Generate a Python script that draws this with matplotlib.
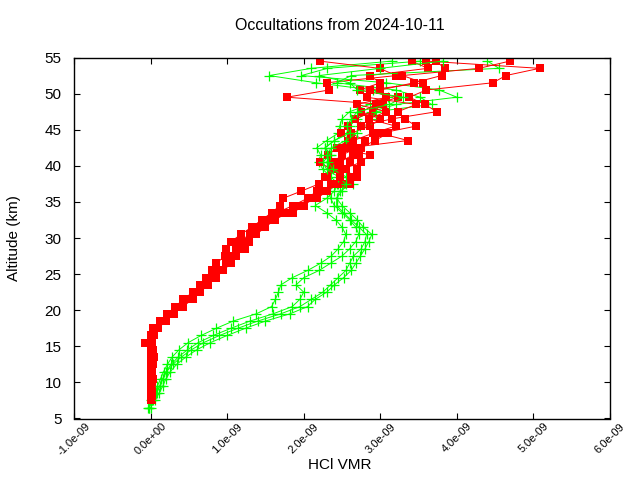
import matplotlib
matplotlib.use("Agg")
import matplotlib.pyplot as plt
from matplotlib.ticker import FixedLocator

plt.rcParams['font.family'] = ['Liberation Sans', 'DejaVu Sans']

# ---- data (HCl VMR in units of 1e-9) ----
alt_green = [6.5, 7.5, 8.5, 9.5, 10.5, 11.5, 12.5, 13.5, 14.5, 15.5,
             16.5, 17.5, 18.5, 19.5, 20.5, 21.5, 22.5, 23.5, 24.5, 25.5,
             26.5, 27.5, 28.5, 29.5, 30.5, 31.5, 32.5, 33.5, 34.5, 35.5,
             36.5, 37.5, 38.5, 39.5, 40.5, 41.5, 42.5, 43.5, 44.5, 45.5,
             46.5, 47.5, 48.5, 49.5, 50.5, 51.5, 52.5, 53.5, 54.5]

green_1 = [-0.03, 0.00, 0.05, 0.09, 0.13, 0.17, 0.22, 0.28, 0.37, 0.49,
           0.66, 0.86, 1.08, 1.38, 1.58, 1.63, 1.67, 1.70, 1.85, 2.05,
           2.22, 2.36, 2.45, 2.52, 2.55, 2.50, 2.42, 2.30, 2.15, 2.30,
           2.40, 2.45, 2.35, 2.25, 2.20, 2.22, 2.17, 2.30, 2.45, 2.47,
           2.50, 2.60, 2.86, 3.10, 2.90, 2.16, 1.55, 2.10, 3.15]
green_2 = [-0.02, 0.03, 0.08, 0.12, 0.16, 0.20, 0.27, 0.36, 0.48, 0.62,
           0.82, 1.05, 1.30, 1.60, 1.85, 1.95, 2.00, 1.90, 2.00, 2.20,
           2.35, 2.50, 2.60, 2.68, 2.72, 2.68, 2.60, 2.50, 2.40, 2.35,
           2.33, 2.43, 2.50, 2.35, 2.30, 2.36, 2.28, 2.40, 2.56, 2.60,
           2.69, 2.88, 3.21, 4.00, 3.77, 3.08, 1.97, 2.31, 3.52]
green_3 = [0.00, 0.06, 0.11, 0.16, 0.20, 0.26, 0.34, 0.46, 0.60, 0.78,
           1.00, 1.24, 1.50, 1.82, 2.05, 2.15, 2.30, 2.40, 2.52, 2.62,
           2.68, 2.74, 2.80, 2.85, 2.89, 2.78, 2.70, 2.60, 2.50, 2.43,
           2.47, 2.65, 2.55, 2.38, 2.32, 2.30, 2.36, 2.55, 2.69, 2.73,
           2.88, 2.95, 3.67, 3.52, 3.20, 2.43, 2.62, 4.55, 4.40]
green_4 = [-0.02, 0.02, 0.07, 0.12, 0.16, 0.21, 0.29, 0.40, 0.53, 0.69,
           0.90, 1.14, 1.40, 1.70, 1.95, 2.10, 2.25, 2.35, 2.45, 2.55,
           2.60, 2.65, 2.75, 2.80, 2.82, 2.72, 2.62, 2.52, 2.43, 2.43,
           2.50, 2.55, 2.45, 2.30, 2.25, 2.34, 2.28, 2.40, 2.60, 2.56,
           2.62, 2.70, 3.12, 3.30, 2.70, 2.60, 2.20, 3.00, 3.82]

alt_red = [7.5, 8.5, 9.5, 10.5, 11.5, 12.5, 13.5, 14.5, 15.5, 16.5,
           17.5, 18.5, 19.5, 20.5, 21.5, 22.5, 23.5, 24.5, 25.5, 26.5,
           27.5, 28.5, 29.5, 30.5, 31.5, 32.5, 33.5, 34.5, 35.5, 36.5,
           37.5, 38.5, 39.5, 40.5, 41.5, 42.5, 43.5, 44.5, 45.5, 46.5,
           47.5, 48.5, 49.5, 50.5, 51.5, 52.5, 53.5, 54.5]

red_1 = [0.00, 0.00, 0.01, 0.00, 0.01, 0.02, 0.01, 0.00, -0.07, 0.00,
         0.03, 0.12, 0.22, 0.32, 0.43, 0.55, 0.64, 0.72, 0.80, 0.86,
         0.97, 0.99, 1.05, 1.18, 1.32, 1.45, 1.58, 1.69, 1.73, 1.97,
         2.20, 2.30, 2.36, 2.21, 2.32, 2.43, 2.58, 2.49, 2.58, 2.67,
         2.90, 3.04, 1.78, 2.33, 2.30, 3.21, 2.99, 2.21]
red_2 = [0.02, 0.03, 0.02, 0.03, 0.02, 0.03, 0.04, 0.03, 0.02, 0.04,
         0.10, 0.20, 0.30, 0.42, 0.55, 0.65, 0.75, 0.85, 0.95, 1.05,
         1.12, 1.20, 1.28, 1.38, 1.50, 1.62, 1.78, 1.90, 2.10, 2.25,
         2.50, 2.62, 2.69, 2.60, 2.72, 2.75, 2.93, 3.10, 2.75, 3.15,
         3.74, 3.58, 3.38, 3.60, 4.47, 4.64, 5.08, 3.60]
red_3 = [0.01, 0.02, 0.00, 0.02, 0.01, 0.00, 0.02, 0.01, 0.00, 0.02,
         0.06, 0.15, 0.25, 0.36, 0.48, 0.58, 0.70, 0.78, 0.88, 0.99,
         1.05, 1.23, 1.15, 1.30, 1.43, 1.56, 1.86, 2.00, 2.12, 2.21,
         2.40, 2.47, 2.55, 2.47, 2.64, 2.60, 3.36, 3.00, 3.47, 3.32,
         3.23, 3.47, 2.82, 2.86, 3.56, 3.29, 4.29, 4.69]
red_4 = [0.00, 0.01, 0.01, 0.01, 0.00, 0.01, 0.03, 0.02, 0.01, 0.01,
         0.05, 0.16, 0.27, 0.38, 0.50, 0.60, 0.68, 0.80, 0.90, 1.00,
         1.08, 1.12, 1.22, 1.34, 1.46, 1.60, 1.70, 1.95, 2.18, 2.30,
         2.35, 2.28, 2.45, 2.38, 2.50, 2.70, 2.80, 2.62, 2.86, 3.00,
         2.75, 2.95, 3.23, 2.73, 3.00, 2.86, 3.62, 3.41]
red_5 = [0.01, 0.00, 0.02, 0.01, 0.02, 0.01, 0.00, 0.02, 0.01, 0.03,
         0.08, 0.18, 0.28, 0.40, 0.52, 0.62, 0.72, 0.82, 0.92, 1.02,
         1.10, 1.18, 1.25, 1.36, 1.48, 1.58, 1.65, 1.86, 2.05, 2.17,
         2.60, 2.70, 2.50, 2.75, 2.86, 2.50, 2.65, 2.90, 3.20, 2.85,
         3.08, 2.70, 3.08, 3.00, 3.44, 3.80, 3.84, 3.73]

x_ticks = [-1e-9, 0.0, 1e-9, 2e-9, 3e-9, 4e-9, 5e-9, 6e-9]
x_tick_labels = ["-1.0e-09", "0.0e+00", "1.0e-09", "2.0e-09",
                 "3.0e-09", "4.0e-09", "5.0e-09", "6.0e-09"]
y_ticks = [5, 10, 15, 20, 25, 30, 35, 40, 45, 50, 55]

title = "Occultations from 2024-10-11"
x_label = "HCl VMR"
y_label = "Altitude (km)"

# ---- figure ----
fig = plt.figure(figsize=(6.4, 4.8), dpi=100)
ax = fig.add_axes([74 / 640, 1 - 418.5 / 480, (610 - 74) / 640, (418.5 - 57.5) / 480])

RED = "#ff0000"
GREEN = "#00ff00"

def scale(v):
    return [a * 1e-9 for a in v]

red_style = dict(color=RED, lw=0.7, marker='s', ms=5.8, mec=RED, mfc=RED, mew=0)
green_style = dict(color=GREEN, lw=0.7, marker='+', ms=7, mew=0.9)

ax.plot(scale(green_1), alt_green, **green_style)
ax.plot(scale(green_2), alt_green, **green_style)
ax.plot(scale(red_1), alt_red, **red_style)
ax.plot(scale(red_4), alt_red, **red_style)
ax.plot(scale(green_3), alt_green, **green_style)
ax.plot(scale(red_2), alt_red, **red_style)
ax.plot(scale(red_5), alt_red, **red_style)
ax.plot(scale(green_4), alt_green, **green_style)
ax.plot(scale(red_3), alt_red, **red_style)

ax.set_xlim(-1e-9, 6e-9)
ax.set_ylim(5, 55)
ax.xaxis.set_major_locator(FixedLocator(x_ticks))
ax.set_xticklabels(x_tick_labels, rotation=45, ha='center', fontsize=8)
ax.yaxis.set_major_locator(FixedLocator(y_ticks))
ax.set_yticklabels([str(t) for t in y_ticks], fontsize=11)

ax.tick_params(axis='both', direction='in', length=4.5, width=0.8,
               top=True, right=True)
ax.tick_params(axis='x', pad=2)
ax.tick_params(axis='y', pad=9)
for s in ax.spines.values():
    s.set_linewidth(1.0)

fig.text(340 / 640, 1 - 25 / 480, title, ha='center', va='center', fontsize=11.5)
fig.text(340 / 640, 1 - 465 / 480, x_label, ha='center', va='center', fontsize=11)
fig.text(14 / 640, 1 - 238 / 480, y_label, ha='center', va='center',
         rotation=90, fontsize=11)

fig.savefig("out.png", dpi=100)
